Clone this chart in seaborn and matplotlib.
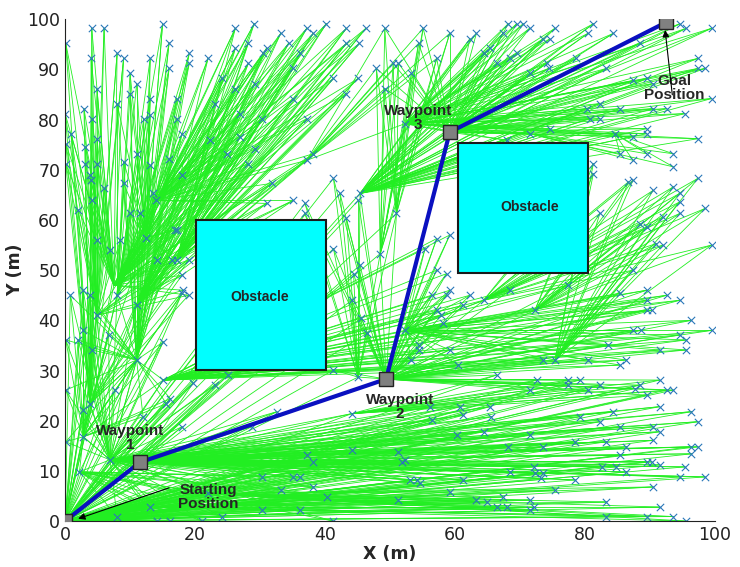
"""
RRT path planning tree: sampled nodes, tree edges, obstacles and final path.
"""
import numpy as np
import pandas as pd
import matplotlib
matplotlib.use("Agg")
import matplotlib.pyplot as plt
import seaborn as sns
from matplotlib.patches import Rectangle

sns.set_style("white")
plt.rcParams["font.family"] = ["DejaVu Sans"]

# tree hubs (x, y)
start = (0.0, 0.0)
wp1 = (11.5, 11.7)
wp2 = (49.4, 28.3)
wp3 = (59.2, 77.5)
goal = (92.5, 99.4)
hub_a = (7.5, 47.0)
hub_b = (12.5, 56.5)
hub_c = (17.2, 52.0)
hub_k = (72.3, 42.0)
hub_e = (84.6, 77.2)

path_x = [0.0, 11.5, 49.4, 59.2, 92.5]
path_y = [0.0, 11.7, 28.3, 77.5, 99.4]

# sampled nodes, grouped by region
left_low = [(0.1, 36.1), (2.0, 36.1), (2.8, 38.0), (4.1, 34.1), (6.7, 37.1), (7.7, 26.1),
            (0.1, 26.1), (11.0, 32.1), (3.8, 23.4), (2.8, 22.1), (0.1, 15.8), (2.8, 16.8),
            (2.2, 9.8), (6.9, 12.2), (12.0, 20.8), (15.1, 28.1), (16.2, 24.4), (15.6, 23.4),
            (4.9, 41.0), (0.8, 45.0), (2.8, 46.0), (3.8, 45.0), (8.0, 45.0), (11.0, 43.0),
            (15.1, 35.7), (18.0, 45.4)]

bottom_near = [(8.0, 0.9), (13.1, 2.8), (14.1, 0.0), (16.2, 0.0), (21.0, 0.0), (24.1, 0.9),
               (22.0, 5.5), (30.3, 2.2), (36.2, 2.2), (41.3, 0.0), (40.3, 4.8), (33.3, 6.2),
               (38.2, 6.8), (30.3, 8.8), (35.1, 8.8), (36.2, 8.8)]

bottom_far = [(51.3, 4.2), (59.2, 5.8), (63.3, 4.2), (64.9, 3.8), (66.4, 2.8), (67.4, 4.8),
              (68.0, 2.8), (71.5, 4.2), (71.5, 2.2), (72.1, 2.8), (83.3, 0.9), (89.5, 0.9),
              (93.6, 0.9), (95.6, 0.0), (91.5, 2.8), (83.3, 3.8), (75.4, 6.2), (90.5, 6.8)]

low_band = [(18.0, 18.8), (19.7, 27.5), (23.1, 27.1), (25.1, 29.1), (28.7, 18.8), (32.6, 21.8),
            (37.2, 13.1), (38.2, 11.8), (44.1, 14.1), (44.1, 21.4), (53.1, 8.2), (54.1, 8.2),
            (54.6, 7.5), (51.8, 11.8), (52.3, 12.2), (51.3, 13.8), (61.3, 8.2), (68.5, 9.8),
            (72.1, 10.8), (72.3, 9.5), (73.6, 9.5), (73.3, 8.5), (78.5, 8.2), (82.6, 10.8),
            (84.8, 10.8), (86.4, 9.8), (89.5, 11.8), (90.3, 11.8), (91.5, 11.2), (95.4, 10.8),
            (94.6, 8.8), (98.5, 8.8), (96.4, 14.8), (97.4, 14.8), (96.4, 13.4), (83.3, 15.8),
            (86.4, 14.8), (85.4, 13.1), (73.6, 14.8), (78.5, 15.8), (68.2, 14.8), (64.4, 17.8),
            (60.3, 17.1), (71.5, 17.1), (91.5, 22.8), (96.4, 21.8), (97.4, 19.8), (79.2, 20.8),
            (82.3, 19.8), (84.4, 21.8), (85.4, 18.8), (90.5, 18.8), (91.5, 17.8), (90.5, 16.1),
            (56.2, 22.8), (60.8, 22.8), (65.4, 22.8), (61.3, 21.1), (65.6, 20.8), (56.4, 20.1)]

mid_column = [(41.3, 68.3), (42.3, 65.3), (45.4, 65.3), (45.1, 63.9), (36.9, 63.3), (36.9, 61.3),
              (43.3, 60.3), (51.0, 61.3), (41.3, 54.3), (45.4, 51.0), (44.4, 49.3), (48.5, 53.3),
              (44.1, 44.0), (45.6, 40.4), (46.4, 37.4), (41.3, 30.1), (45.1, 28.7)]

mid_right = [(57.2, 56.3), (59.2, 57.0), (55.4, 54.3), (57.2, 50.0), (58.7, 49.3), (56.4, 45.0),
             (59.2, 46.0), (58.7, 45.0), (62.3, 45.0), (64.4, 44.0), (68.5, 46.0), (57.2, 42.0),
             (57.9, 41.0), (58.2, 39.4), (61.3, 43.0), (72.3, 42.0), (77.4, 47.0), (85.4, 45.4),
             (89.5, 46.0), (89.5, 44.0), (92.6, 45.0), (94.6, 44.0), (89.5, 42.0), (90.3, 42.0),
             (96.4, 40.0), (99.5, 38.0), (87.4, 38.0), (88.7, 38.0), (94.6, 37.1), (95.6, 36.1),
             (95.6, 34.1), (91.5, 34.1), (83.6, 35.1), (80.5, 32.1), (85.4, 31.1), (86.4, 32.1),
             (54.4, 35.1), (54.4, 34.1), (59.2, 34.1), (52.3, 38.0), (53.3, 32.1), (60.5, 31.1),
             (73.6, 32.1), (75.4, 32.1)]

low_right = [(66.4, 29.1), (71.5, 26.1), (72.6, 28.1), (77.4, 28.1), (77.4, 27.1), (79.2, 28.1),
             (80.5, 26.1), (82.3, 27.1), (87.7, 26.4), (88.5, 27.1), (89.5, 25.1), (91.5, 28.1),
             (92.6, 26.1), (93.6, 26.1)]

right_mid = [(82.3, 61.3), (87.4, 50.0), (88.5, 59.3), (89.5, 58.6), (91.0, 55.3), (92.0, 55.0),
             (99.5, 55.0), (92.0, 60.6), (94.6, 63.6), (94.6, 61.3), (98.5, 62.3), (90.5, 65.9),
             (93.6, 66.6), (94.6, 65.3), (86.7, 67.6), (87.4, 67.9), (97.4, 68.3), (81.3, 71.2),
             (81.3, 69.2)]

top_right = [(62.3, 96.1), (63.3, 97.2), (68.2, 99.1), (69.5, 99.1), (70.5, 99.1), (71.5, 98.2),
             (67.4, 97.2), (73.6, 96.1), (74.6, 96.1), (75.4, 98.2), (81.3, 99.1), (80.5, 97.2),
             (84.4, 97.2), (88.5, 95.2), (94.6, 99.1), (95.6, 98.2), (99.5, 98.2), (64.4, 93.2),
             (65.4, 94.2), (66.4, 91.2), (68.5, 92.2), (69.5, 93.2), (71.5, 89.2), (74.1, 91.2),
             (74.4, 90.2), (78.7, 92.2), (83.3, 90.2), (87.4, 87.8), (89.5, 88.2), (90.5, 87.2),
             (97.4, 92.2), (97.4, 90.2), (98.5, 90.2), (99.5, 84.2), (80.3, 82.2), (82.3, 83.2),
             (85.4, 82.2), (80.8, 80.2), (82.3, 80.2), (90.5, 82.2), (92.6, 82.2), (95.4, 81.2),
             (74.6, 78.2), (71.5, 77.2), (68.0, 75.9), (84.6, 77.2), (87.4, 76.6), (89.5, 78.2),
             (89.5, 77.2), (97.4, 76.2)]

top_mid = [(55.1, 98.2), (59.2, 97.2), (54.4, 95.2), (47.9, 90.2), (50.5, 91.2), (51.3, 91.2),
           (53.3, 89.2), (57.2, 92.2), (49.2, 86.2), (52.3, 79.2), (49.2, 98.2)]

right_corner = [(85.4, 73.2), (87.4, 71.9), (89.5, 73.2), (93.6, 73.2), (93.6, 70.6)]

top_left = [(0.1, 95.2), (4.1, 98.2), (6.0, 98.2), (4.0, 92.2), (8.0, 93.2), (9.0, 92.2),
            (0.0, 81.2), (2.9, 82.2), (4.1, 80.2), (4.9, 86.2), (0.1, 75.2), (0.1, 71.2),
            (0.9, 77.2), (3.1, 74.6), (3.1, 71.2), (4.9, 76.2), (3.8, 68.9), (4.0, 67.9),
            (4.9, 71.2), (2.0, 62.0), (4.1, 63.9), (6.0, 66.3), (4.9, 56.0), (6.9, 54.0),
            (8.5, 56.0), (12.5, 56.5), (18.0, 49.0), (18.2, 46.0), (19.0, 45.0), (14.1, 52.0),
            (16.4, 52.0), (17.2, 52.0), (19.0, 52.0)]

upper_left = [(15.0, 99.1), (16.0, 95.3), (13.1, 92.2), (16.0, 90.2), (19.1, 93.2), (19.1, 91.2),
              (22.0, 92.2), (10.0, 89.2), (11.0, 87.2), (10.0, 85.2), (8.0, 83.2), (13.1, 84.2),
              (12.1, 80.2), (13.1, 80.9), (17.2, 84.2), (17.2, 80.2), (18.0, 77.2), (11.0, 73.2),
              (9.0, 71.6), (13.1, 70.9), (16.0, 72.2), (18.0, 68.9), (9.0, 67.3), (13.6, 65.3),
              (14.0, 63.9), (17.2, 58.0), (10.0, 61.3), (11.5, 61.3), (16.9, 58.0)]

upper_mid = [(26.2, 98.2), (29.1, 99.1), (26.2, 94.2), (28.2, 95.2), (28.2, 91.2), (33.2, 97.2),
             (34.4, 95.2), (31.0, 94.2), (30.5, 93.2), (37.2, 98.2), (38.2, 97.2), (40.2, 99.1),
             (36.2, 93.2), (35.1, 90.2), (24.1, 88.2), (23.1, 83.2), (26.2, 86.2), (29.2, 87.2),
             (26.9, 81.2), (30.3, 80.2), (35.1, 84.2), (37.2, 80.2), (22.3, 75.9), (24.9, 73.2),
             (26.9, 76.6), (28.2, 71.2), (29.2, 74.2), (31.8, 67.3), (31.0, 63.3), (35.1, 63.9),
             (38.2, 73.2), (37.2, 71.9), (43.3, 98.2), (43.3, 95.2), (45.3, 95.2), (46.3, 98.2),
             (45.1, 88.2), (43.3, 85.2), (41.3, 88.2)]

# which tree nodes each region is wired to
groups = [
    (left_low, [start, (6.9, 12.2), (11.0, 32.1), (2.8, 16.8)]),
    (bottom_near, [start, (2.2, 9.8), (6.9, 12.2)]),
    (bottom_far, [start, (13.1, 2.8), (22.0, 5.5)]),
    (low_band, [wp1, start, (6.9, 12.2)]),
    (mid_column, [wp2, (45.1, 28.7), start]),
    (mid_right, [wp2, (52.3, 38.0), (15.1, 28.1)]),
    (low_right, [wp2, (44.1, 21.4), start]),
    (right_mid, [hub_k, (64.4, 44.0), (75.4, 32.1)]),
    (top_right, [wp3, (52.3, 79.2), (45.4, 65.3)]),
    (top_mid, [wp3, (48.5, 53.3), (51.0, 61.3), (37.2, 71.9)]),
    (right_corner, [hub_e, (71.5, 77.2)]),
    (top_left, [hub_a, (4.9, 41.0), (3.8, 23.4)]),
    (upper_left, [hub_b, (8.0, 45.0), (11.0, 32.1)]),
    (upper_mid, [hub_c, (11.0, 43.0), (14.0, 63.9), hub_a]),
]

hub_links = [(start, hub_a), (hub_a, hub_b), (hub_b, hub_c), (start, wp1), (wp1, wp2),
             (wp2, wp3), (wp3, goal)]


def build_edges():
    rows = []
    seg = 0
    for kids, parents in groups:
        for parent in parents:
            for kid in kids:
                rows.append((seg, parent[0], parent[1]))
                rows.append((seg, kid[0], kid[1]))
                seg += 1
    for p, q in hub_links:
        rows.append((seg, p[0], p[1]))
        rows.append((seg, q[0], q[1]))
        seg += 1
    return pd.DataFrame(rows, columns=["seg", "x", "y"])


edges = build_edges()
nodes = pd.DataFrame([k for kids, _ in groups for k in kids], columns=["x", "y"])

fig = plt.figure(figsize=(7.4, 5.67), dpi=100)
ax = fig.add_axes([0.088, 0.081, 0.878, 0.885])

sns.lineplot(data=edges, x="x", y="y", units="seg", estimator=None, sort=False,
             color="#22ee22", lw=0.6, ax=ax, zorder=1)
sns.scatterplot(data=nodes, x="x", y="y", marker="x", color="#2a78b8", s=28,
                linewidth=0.8, ax=ax, zorder=2)

# obstacles
for (x0, y0, w, h), (tx, ty) in [((20.2, 30.1, 20.0, 29.9), (30.0, 44.6)),
                                  ((60.5, 49.4, 20.0, 25.9), (71.5, 62.5))]:
    ax.add_patch(Rectangle((x0, y0), w, h, facecolor="#00ffff", edgecolor="#1a1a1a",
                           lw=1.5, zorder=3))
    ax.text(tx, ty, "Obstacle", ha="center", va="center", fontsize=10,
            fontweight="bold", family="Liberation Sans", zorder=4)

# final path
sns.lineplot(x=path_x, y=path_y, sort=False, color="#0a10c0", lw=3, ax=ax, zorder=5)
ax.plot(path_x, path_y, ls="none", marker="s", ms=10, mfc="#808080", mec="#222222",
        mew=1, zorder=6)

lab = dict(ha="center", va="center", fontsize=11, fontweight="bold",
           family="Liberation Sans", linespacing=1.0, zorder=7)
ax.text(10.0, 16.6, "Waypoint\n1", **lab)
ax.text(51.5, 22.8, "Waypoint\n2", **lab)
ax.text(54.3, 80.4, "Waypoint\n3", **lab)
ax.text(22.0, 4.7, "Starting\nPosition", **lab)
ax.text(93.8, 86.4, "Goal\nPosition", **lab)
ax.annotate("", xy=(1.6, 0.3), xytext=(16.4, 6.8),
            arrowprops=dict(arrowstyle="-|>", color="black", lw=0.8, mutation_scale=10),
            zorder=7)
ax.annotate("", xy=(92.3, 98.4), xytext=(93.5, 84.4),
            arrowprops=dict(arrowstyle="-|>", color="black", lw=0.8, mutation_scale=10),
            zorder=7)

ax.set_xlim(0, 100)
ax.set_ylim(0, 100)
ax.set_xticks(np.arange(0, 101, 20))
ax.set_yticks(np.arange(0, 101, 10))
ax.tick_params(direction="in", length=5, labelsize=12.5, colors="#222222")
ax.set_xlabel("X (m)", fontsize=12.5, fontweight="bold", labelpad=1)
ax.set_ylabel("Y (m)", fontsize=12.5, fontweight="bold", labelpad=2)
for side in ["top", "right"]:
    ax.spines[side].set_visible(False)
for side in ["left", "bottom"]:
    ax.spines[side].set_color("#222222")
    ax.spines[side].set_linewidth(0.8)

fig.savefig("out.png", dpi=100)
